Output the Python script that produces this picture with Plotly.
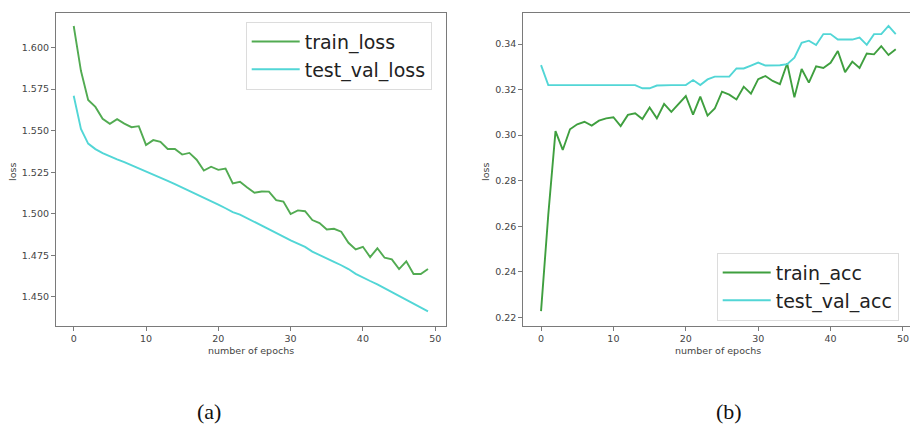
import plotly.graph_objects as go

epochs = list(range(50))

train_loss = [1.6130, 1.5860, 1.5685, 1.5643, 1.5571, 1.5541, 1.5569, 1.5542, 1.5521, 1.5527,
              1.5414, 1.5443, 1.5433, 1.5390, 1.5390, 1.5356, 1.5366, 1.5325, 1.5260, 1.5283,
              1.5264, 1.5272, 1.5183, 1.5192, 1.5158, 1.5126, 1.5134, 1.5133, 1.5082, 1.5073,
              1.4998, 1.5020, 1.5015, 1.4962, 1.4944, 1.4905, 1.4909, 1.4892, 1.4825, 1.4785,
              1.4801, 1.4739, 1.4792, 1.4735, 1.4725, 1.4667, 1.4714, 1.4637, 1.4637, 1.4667]

test_val_loss = [1.5710, 1.5510, 1.5422, 1.5389, 1.5365, 1.5345, 1.5327, 1.5310, 1.5292, 1.5274,
                 1.5256, 1.5237, 1.5218, 1.5198, 1.5178, 1.5158, 1.5138, 1.5117, 1.5097, 1.5075,
                 1.5055, 1.5033, 1.5010, 1.4995, 1.4972, 1.4950, 1.4928, 1.4906, 1.4884, 1.4862,
                 1.4840, 1.4820, 1.4800, 1.4772, 1.4750, 1.4729, 1.4710, 1.4690, 1.4667, 1.4638,
                 1.4615, 1.4595, 1.4575, 1.4552, 1.4530, 1.4508, 1.4484, 1.4460, 1.4438, 1.4412]

train_acc = [0.2227, 0.2650, 0.3018, 0.2935, 0.3026, 0.3048, 0.3059, 0.3042, 0.3064, 0.3074,
             0.3079, 0.3040, 0.3089, 0.3096, 0.3071, 0.3122, 0.3074, 0.3137, 0.3102, 0.3139,
             0.3172, 0.3090, 0.3169, 0.3086, 0.3117, 0.3191, 0.3178, 0.3157, 0.3213, 0.3182,
             0.3246, 0.3260, 0.3238, 0.3224, 0.3315, 0.3166, 0.3291, 0.3231, 0.3302, 0.3295,
             0.3318, 0.3370, 0.3277, 0.3323, 0.3295, 0.3359, 0.3355, 0.3391, 0.3352, 0.3377]

test_val_acc = [0.3308, 0.3220, 0.3220, 0.3220, 0.3220, 0.3220, 0.3220, 0.3220, 0.3220, 0.3220,
                0.3220, 0.3220, 0.3220, 0.3220, 0.3206, 0.3206, 0.3218, 0.3220, 0.3220, 0.3220,
                0.3220, 0.3242, 0.3220, 0.3245, 0.3257, 0.3257, 0.3257, 0.3293, 0.3293, 0.3306,
                0.3319, 0.3306, 0.3307, 0.3307, 0.3312, 0.3340, 0.3406, 0.3415, 0.3396, 0.3444,
                0.3444, 0.3420, 0.3420, 0.3420, 0.3429, 0.3397, 0.3444, 0.3444, 0.3480, 0.3444]

x_ticks = [0, 10, 20, 30, 40, 50]
loss_ticks = [1.450, 1.475, 1.500, 1.525, 1.550, 1.575, 1.600]
acc_ticks = [0.22, 0.24, 0.26, 0.28, 0.30, 0.32, 0.34]

W, H = 910, 427
GREEN_L = "#52ab52"
GREEN_R = "#3f9f3f"
CYAN = "#52d6d6"
AX = "#7a7a7a"
TXT = "#444444"
FONT = "DejaVu Sans"

fig = go.Figure()
fig.add_trace(go.Scatter(x=epochs, y=train_loss, mode="lines", name="train_loss",
                         line=dict(color=GREEN_L, width=1.9), xaxis="x", yaxis="y", legend="legend"))
fig.add_trace(go.Scatter(x=epochs, y=test_val_loss, mode="lines", name="test_val_loss",
                         line=dict(color=CYAN, width=1.9), xaxis="x", yaxis="y", legend="legend"))
fig.add_trace(go.Scatter(x=epochs, y=train_acc, mode="lines", name="train_acc",
                         line=dict(color=GREEN_R, width=1.9), xaxis="x2", yaxis="y2", legend="legend2"))
fig.add_trace(go.Scatter(x=epochs, y=test_val_acc, mode="lines", name="test_val_acc",
                         line=dict(color=CYAN, width=1.9), xaxis="x2", yaxis="y2", legend="legend2"))

def px_x(v):
    return v / W

def px_y(v):
    return 1 - v / H

y_dom = [px_y(325.7), px_y(12.7)]
axis_common = dict(showgrid=False, zeroline=False, showline=True, linecolor=AX, linewidth=1.2,
                   ticks="outside", ticklen=4, tickwidth=1, tickcolor=AX, automargin=False,
                   ticklabeloverflow="allow",
                   tickfont=dict(family=FONT, size=9.5, color=TXT))

legend_common = dict(xanchor="left", yanchor="top",
                     bgcolor="rgba(255,255,255,0.9)", bordercolor="#dcdcdc", borderwidth=1,
                     font=dict(family=FONT, size=19, color="#222222"), itemwidth=48,
                     tracegroupgap=0)

fig.update_layout(
    width=W, height=H,
    margin=dict(l=0, r=0, t=0, b=0, autoexpand=False),
    paper_bgcolor="white", plot_bgcolor="white",
    xaxis=dict(domain=[px_x(56), px_x(445.7)], range=[-2.45, 51.45], tickvals=x_ticks,
               mirror=True, anchor="y", **axis_common),
    yaxis=dict(domain=y_dom, range=[1.4326, 1.6210], tickvals=loss_ticks, tickformat=".3f",
               mirror=True, anchor="x", **axis_common),
    xaxis2=dict(domain=[px_x(523.3), 1.0], range=[-2.45, 50.97], tickvals=x_ticks,
                mirror=True, anchor="y2", **axis_common),
    yaxis2=dict(domain=y_dom, range=[0.2163, 0.3538], tickvals=acc_ticks, tickformat=".2f",
                mirror=False, anchor="x2", **axis_common),
    legend=dict(x=px_x(245.7), y=px_y(21.7), **legend_common),
    legend2=dict(x=px_x(716.7), y=px_y(252.7), **legend_common),
    showlegend=True,
)

ann = []
label_font = dict(family=FONT, size=9.5, color=TXT)
ann.append(dict(text="number of epochs", x=px_x(250.9), y=px_y(350), xref="paper", yref="paper",
                showarrow=False, font=label_font, xanchor="center", yanchor="middle"))
ann.append(dict(text="number of epochs", x=px_x(718), y=px_y(350), xref="paper", yref="paper",
                showarrow=False, font=label_font, xanchor="center", yanchor="middle"))
ann.append(dict(text="loss", x=px_x(12), y=px_y(172), xref="paper", yref="paper", textangle=-90,
                showarrow=False, font=label_font, xanchor="center", yanchor="middle"))
ann.append(dict(text="loss", x=px_x(485), y=px_y(172), xref="paper", yref="paper", textangle=-90,
                showarrow=False, font=label_font, xanchor="center", yanchor="middle"))
cap_font = dict(family="Liberation Serif", size=22, color="#111111")
ann.append(dict(text="(a)", x=px_x(209), y=px_y(411), xref="paper", yref="paper",
                showarrow=False, font=cap_font, xanchor="center", yanchor="middle"))
ann.append(dict(text="(b)", x=px_x(729), y=px_y(411), xref="paper", yref="paper",
                showarrow=False, font=cap_font, xanchor="center", yanchor="middle"))
fig.update_layout(annotations=ann)

fig.write_html("out.html", config={"displayModeBar": False},
               post_script="document.body.style.margin='0';document.body.style.overflow='hidden';")
